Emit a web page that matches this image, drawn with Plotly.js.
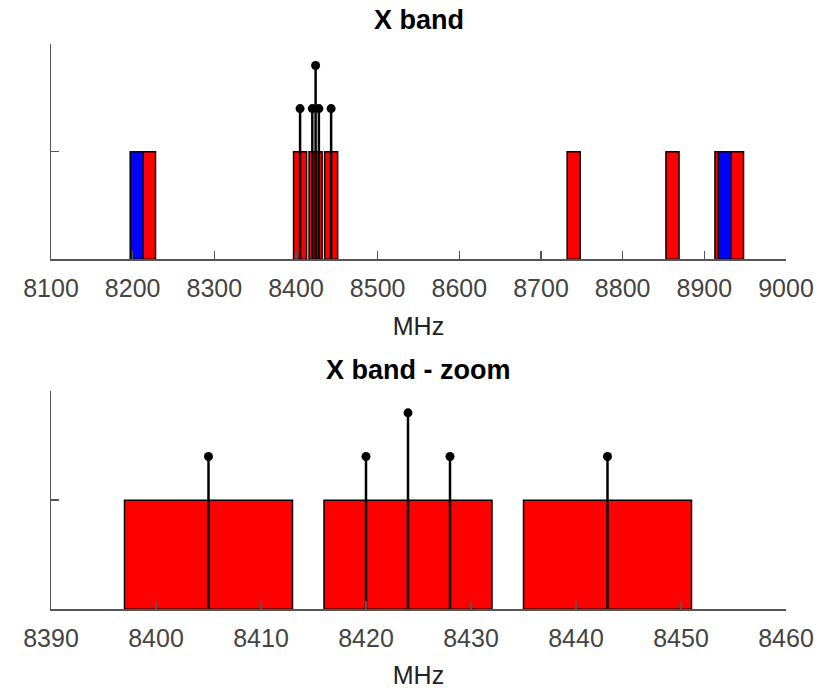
<!DOCTYPE html>
<html>
<head>
<meta charset="utf-8">
<script src="https://cdn.plot.ly/plotly-3.0.1.min.js"></script>
<style>html,body{margin:0;padding:0;background:#fff;}#chart{width:820px;height:689px;}</style>
</head>
<body>
<div id="chart"></div>
<script>
// Data (MHz)
const redCenters = [8220, 8405, 8424, 8443, 8740, 8861, 8921, 8940];
const redHeights = [1, 1, 1, 1, 1, 1, 1, 1];
const blueCenters = [8205, 8925];
const blueHeights = [1, 1];
const channelWidth = 16;
const stemFreqs = [8405, 8420, 8424, 8428, 8443];
const stemHeights = [1.4, 1.4, 1.8, 1.4, 1.4];
const topTicks = [8100, 8200, 8300, 8400, 8500, 8600, 8700, 8800, 8900, 9000];
const zoomTicks = [8390, 8400, 8410, 8420, 8430, 8440, 8450, 8460];
const titles = ['X band', 'X band - zoom'];
const xLabel = 'MHz';

const traces = [];
[['x', 'y'], ['x2', 'y2']].forEach(([xa, ya]) => {
  traces.push({
    type: 'bar', x: redCenters, y: redHeights, width: redCenters.map(() => channelWidth),
    marker: {color: '#ff0000', line: {color: '#000', width: 1.5}},
    xaxis: xa, yaxis: ya, showlegend: false, hoverinfo: 'x'
  });
  traces.push({
    type: 'bar', x: blueCenters, y: blueHeights, width: blueCenters.map(() => channelWidth),
    marker: {color: '#0000ff', line: {color: '#000', width: 1.5}},
    xaxis: xa, yaxis: ya, showlegend: false, hoverinfo: 'x'
  });
  traces.push({
    type: 'scatter', mode: 'markers', x: stemFreqs, y: stemHeights,
    marker: {color: '#000', size: 9, symbol: 'circle'},
    error_y: {type: 'data', symmetric: false, array: stemFreqs.map(() => 0),
              arrayminus: stemHeights, width: 0, thickness: 2.5, color: '#000'},
    xaxis: xa, yaxis: ya, showlegend: false, cliponaxis: false
  });
});

const axisCommon = {
  showline: true, linecolor: '#555', linewidth: 1.5,
  ticks: 'inside', ticklen: 8, tickwidth: 1.5, tickcolor: '#555',
  showgrid: false, zeroline: false, mirror: false, fixedrange: true
};
const tickFont = {family: 'Liberation Sans, Arial, sans-serif', size: 25, color: '#444'};
const labFont = {family: 'Liberation Sans, Arial, sans-serif', size: 25, color: '#222'};

const layout = {
  width: 820, height: 689,
  margin: {l: 51, r: 34, t: 0, b: 0},
  paper_bgcolor: '#fff', plot_bgcolor: '#fff',
  barmode: 'overlay', bargap: 0,
  showlegend: false,
  xaxis: Object.assign({}, axisCommon, {
    domain: [0, 1], anchor: 'y', range: [8100, 9000], tickvals: topTicks,
    tickfont: tickFont, ticklabelstandoff: 6, title: {text: xLabel, font: labFont, standoff: 16}
  }),
  yaxis: Object.assign({}, axisCommon, {
    domain: [0.6237, 0.9361], anchor: 'x', range: [0, 2], tickvals: [0, 1, 2], showticklabels: false
  }),
  xaxis2: Object.assign({}, axisCommon, {
    domain: [0, 1], anchor: 'y2', range: [8390, 8460], tickvals: zoomTicks,
    tickfont: tickFont, ticklabelstandoff: 6, title: {text: xLabel, font: labFont, standoff: 16}
  }),
  yaxis2: Object.assign({}, axisCommon, {
    domain: [0.1157, 0.4325], anchor: 'x2', range: [0, 2], tickvals: [0, 1, 2], showticklabels: false
  }),
  annotations: [
    {text: '<b>' + titles[0] + '</b>', xref: 'paper', yref: 'paper', x: 0.5, y: 1 - 20 / 689,
     xanchor: 'center', yanchor: 'middle', showarrow: false,
     font: {family: 'Liberation Sans, Arial, sans-serif', size: 27, color: '#000'}},
    {text: '<b>' + titles[1] + '</b>', xref: 'paper', yref: 'paper', x: 0.5, y: 1 - 370 / 689,
     xanchor: 'center', yanchor: 'middle', showarrow: false,
     font: {family: 'Liberation Sans, Arial, sans-serif', size: 27, color: '#000'}}
  ]
};

Plotly.newPlot('chart', traces, layout, {displayModeBar: false, staticPlot: true});
</script>
</body>
</html>
